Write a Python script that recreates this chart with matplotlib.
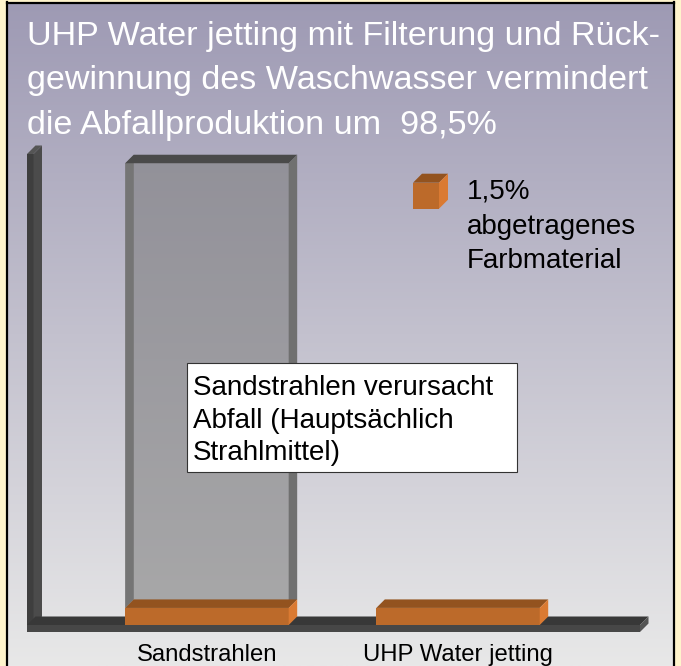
import numpy as np
import matplotlib.pyplot as plt
from matplotlib.patches import Rectangle, Polygon

plt.rcParams['font.family'] = ['Liberation Sans', 'DejaVu Sans']

# data
categories = ['Sandstrahlen', 'UHP Water jetting']
farbmaterial = [3.7, 3.7]          # orange part (removed paint)
strahlmittel = [96.3, 0.0]         # grey part (blasting abrasive)
title_lines = ['UHP Water jetting mit Filterung und Rück-',
               'gewinnung des Waschwasser vermindert',
               'die Abfallproduktion um  98,5%']
legend_lines = ['1,5%', 'abgetragenes', 'Farbmaterial']
note_lines = ['Sandstrahlen verursacht', 'Abfall (Hauptsächlich', 'Strahlmittel)']

W, H = 681, 666
fig = plt.figure(figsize=[W / 100, H / 100], dpi=100, facecolor='#fff4cc')

# background panel in pixel coordinates
bg = fig.add_axes([0, 0, 1, 1])
bg.set_xlim(0, W)
bg.set_ylim(H, 0)
bg.axis('off')
top_c = np.array([158, 154, 180]) / 255
bot_c = np.array([232, 232, 232]) / 255
t = np.linspace(0, 1, 300)[:, None, None]
grad = top_c * (1 - t) + bot_c * t
bg.imshow(grad, extent=(7, 675, H, 2), aspect='auto', origin='upper')
bg.plot([7, 7], [2, H], color='black', lw=1.6)
bg.plot([674, 674], [2, H], color='black', lw=1.6)
bg.plot([7, 674], [2.5, 2.5], color='black', lw=1.6)

# title
for i, line in enumerate(title_lines):
    bg.text(27, 45 + i * 44.5, line, color='white', fontsize=24.6, va='baseline', ha='left')

# legend cube + text
lx, ly, ls, ld = 413, 182.7, 26, 9
bg.add_patch(Rectangle((lx, ly), ls, ls, facecolor='#bc6a2a', edgecolor='none'))
bg.add_patch(Polygon([(lx, ly), (lx + ld, ly - ld), (lx + ls + ld, ly - ld), (lx + ls, ly)],
                     facecolor='#93531f', edgecolor='none'))
bg.add_patch(Polygon([(lx + ls, ly), (lx + ls + ld, ly - ld), (lx + ls + ld, ly + ls - ld), (lx + ls, ly + ls)],
                     facecolor='#da7a32', edgecolor='none'))
for i, line in enumerate(legend_lines):
    bg.text(467, 199 + i * 34.5, line, color='black', fontsize=20, va='baseline', ha='left')

# chart axes
x0, x1 = -0.717, 1.725
ymax = 102
ax = fig.add_axes([27 / W, (H - 625) / H, (640 - 27) / W, (625 - 154) / H])
ax.set_xlim(x0, x1)
ax.set_ylim(0, ymax)
ax.patch.set_visible(False)
for s in ax.spines.values():
    s.set_visible(False)
ax.set_yticks([])

pxx = (640 - 27) / (x1 - x0)
pxy = (625 - 154) / ymax
dx, dy = 8.5 / pxx, 8.5 / pxy
floor_h = 7 / pxy
wall_w = 6.5 / pxx

def poly(pts, color, z, alpha=1.0):
    ax.add_patch(Polygon(pts, closed=True, facecolor=color, edgecolor='none',
                         alpha=alpha, zorder=z, clip_on=False))

# wall
poly([(x0, -floor_h), (x0 + wall_w, -floor_h), (x0 + wall_w, ymax), (x0, ymax)], '#3e3e3e', 1)
poly([(x0 + wall_w, 0), (x0 + wall_w + dx, dy), (x0 + wall_w + dx, ymax + dy), (x0 + wall_w, ymax)], '#4b4b4b', 1)
poly([(x0, ymax), (x0 + dx, ymax + dy), (x0 + wall_w + dx, ymax + dy), (x0 + wall_w, ymax)], '#555555', 1)

# floor
poly([(x0, 0), (x1, 0), (x1 + dx, dy), (x0 + dx, dy)], '#383838', 2)
poly([(x0, -floor_h), (x1, -floor_h), (x1, 0), (x0, 0)], '#474747', 2)
poly([(x1, -floor_h), (x1 + dx, dy - floor_h), (x1 + dx, dy), (x1, 0)], '#555555', 2)

xs = np.arange(len(categories))
bw = 163.4 / pxx

# grey part (see-through)
for xc, base, val in zip(xs, farbmaterial, strahlmittel):
    if val <= 0:
        continue
    top = base + val
    xl, xr = xc - bw / 2, xc + bw / 2
    ax.bar(xc, val, bottom=base, width=bw, color='#7e7e7e', alpha=0.585, zorder=3)
    poly([(xl, base), (xl, top), (xl + dx, top + dy), (xl + dx, base + dy)], '#757575', 4)
    poly([(xr, base), (xr, top), (xr + dx, top + dy), (xr + dx, base + dy)], '#707070', 4)
    poly([(xl, top), (xl + dx, top + dy), (xr + dx, top + dy), (xr, top)], '#4a4a4a', 4)

# orange part
ax.bar(xs, farbmaterial, width=bw, color='#bc6a2a', zorder=5)
for xc, val in zip(xs, farbmaterial):
    xl, xr = xc - bw / 2, xc + bw / 2
    poly([(xl, val), (xl + dx, val + dy), (xr + dx, val + dy), (xr, val)], '#93531f', 5)
    poly([(xr, 0), (xr, val), (xr + dx, val + dy), (xr + dx, dy)], '#da7a32', 5)

ax.set_xticks(xs)
ax.set_xticklabels(categories, fontsize=17.2)
ax.tick_params(axis='x', length=0, pad=14)

# note box on top of everything
fg = fig.add_axes([0, 0, 1, 1])
fg.set_xlim(0, W)
fg.set_ylim(H, 0)
fg.axis('off')
fg.add_patch(Rectangle((187, 363), 330, 109, facecolor='white', edgecolor='#333333', lw=0.8))
for i, line in enumerate(note_lines):
    fg.text(193, 395 + i * 32.5, line, color='black', fontsize=20, va='baseline', ha='left')

fig.savefig('out.png', dpi=100, facecolor=fig.get_facecolor())
